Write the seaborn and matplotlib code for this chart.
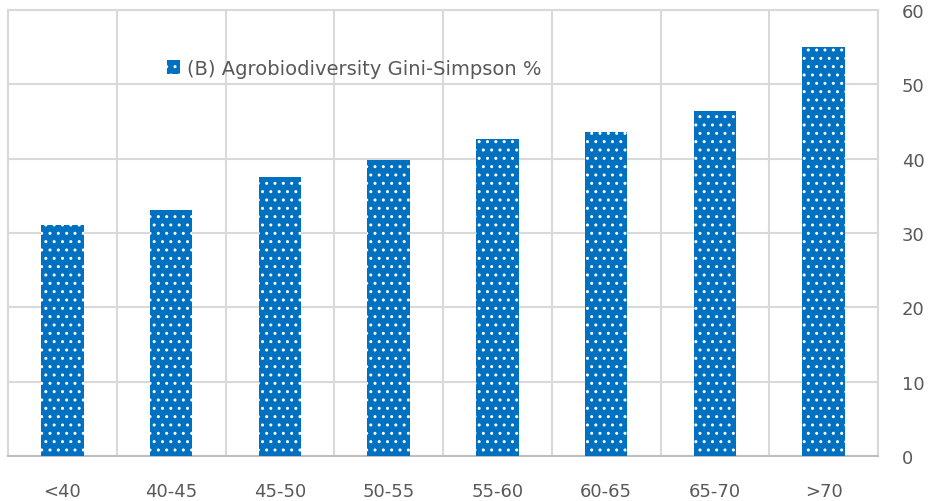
import matplotlib
matplotlib.use('Agg')
import matplotlib.pyplot as plt
import seaborn as sns
import pandas as pd
from matplotlib.patches import Patch
from matplotlib.ticker import FixedLocator

# Dữ liệu
age_groups = ['<40', '40-45', '45-50', '50-55', '55-60', '60-65', '65-70', '>70']
gini_simpson = [31.1, 33.1, 37.5, 39.8, 42.7, 43.6, 46.4, 55.0]
series_label = '(B) Agrobiodiversity Gini-Simpson %'

bar_color = '#0070C0'
grid_color = '#D9D9D9'
text_color = '#595959'

df = pd.DataFrame({'group': age_groups, 'value': gini_simpson})

sns.set_style('white')
plt.rcParams['font.family'] = ['DejaVu Sans']
plt.rcParams['hatch.linewidth'] = 1.0

fig = plt.figure(figsize=(9.3, 5.02), dpi=100)
ax = fig.add_axes([8 / 930, 45 / 502, 870 / 930, 446 / 502])

sns.barplot(data=df, x='group', y='value', color=bar_color, width=0.39,
            saturation=1, ax=ax, zorder=3)

for bar in ax.patches:
    bar.set_hatch('..')
    bar.set_edgecolor('white')
    bar.set_linewidth(0)

ax.set_xlim(-0.5, len(age_groups) - 0.5)
ax.set_ylim(0, 60)
ax.set_yticks(range(0, 61, 10))
ax.yaxis.tick_right()
ax.set_xlabel('')
ax.set_ylabel('')

# Lưới dọc giữa các nhóm
ax.xaxis.set_minor_locator(FixedLocator([i - 0.5 for i in range(len(age_groups) + 1)]))
ax.grid(True, which='minor', axis='x', color=grid_color, linewidth=1.5, zorder=0)
ax.grid(True, which='major', axis='y', color=grid_color, linewidth=1.5, zorder=0)
ax.set_axisbelow(True)

ax.tick_params(axis='x', which='both', length=0, pad=19, labelsize=13, labelcolor=text_color)
ax.tick_params(axis='y', length=0, pad=17, labelsize=13, labelcolor=text_color)
for lbl in ax.get_yticklabels():
    lbl.set_horizontalalignment('left')

for side in ['top', 'left', 'right']:
    ax.spines[side].set_color(grid_color)
    ax.spines[side].set_linewidth(1.5)
ax.spines['bottom'].set_color('#BFBFBF')
ax.spines['bottom'].set_linewidth(1.5)

handle = Patch(facecolor=bar_color, edgecolor='white', hatch='..', linewidth=0)
ax.legend(handles=[handle], labels=[series_label], loc='upper left',
          bbox_to_anchor=(0.1715, 0.912), frameon=False, fontsize=14,
          handlelength=0.68, handleheight=0.68, handletextpad=0.35,
          borderpad=0, labelcolor=text_color)

plt.savefig('out.png', dpi=100)
